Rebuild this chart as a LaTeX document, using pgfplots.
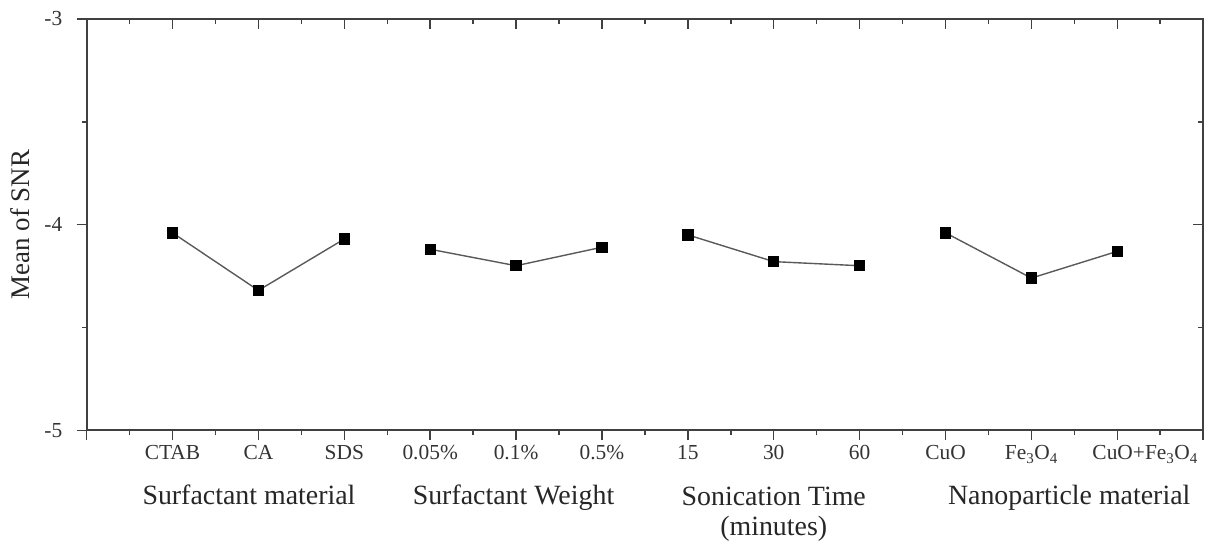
\documentclass[border=0pt]{standalone}
\usepackage{fontspec}
\setmainfont{Liberation Serif}
\usepackage{pgfplots}
\usepackage{pgfplotstable}
\pgfplotsset{compat=1.18}

% main effects plot, mean of SNR per factor level (one table per factor)
\pgfplotstableread{
x   snr
1   -4.04
2   -4.32
3   -4.07
}\surfmat
\pgfplotstableread{
x   snr
4   -4.12
5   -4.20
6   -4.11
}\surfwt
\pgfplotstableread{
x   snr
7   -4.05
8   -4.18
9   -4.20
}\sonic
\pgfplotstableread{
x   snr
10  -4.04
11  -4.26
12  -4.13
}\nanomat

\pgfplotsset{
  snrframe/.style={
    scale only axis, width=1121pt, height=413pt,
    xmin=0, xmax=13, ymin=-5, ymax=-3,
    xtick={0,...,13}, ytick={-5,-4,-3},
    minor x tick num=1, minor y tick num=1,
    major tick length=10pt, minor tick length=5pt,
    every tick/.style={line width=1.5pt, black!75},
    tick label style={font=\fontsize{21.5}{25}\selectfont, black!80},
  },
  snrline/.style={line width=1.4pt, black!65, mark=square*, mark size=5pt,
    mark options={solid, fill=black, draw=black}},
}

\begin{document}
\begin{tikzpicture}
\begin{axis}[snrframe, name=main,
  tick pos=left, tick align=outside,
  axis line style={line width=1.8pt, black!75},
  xticklabels={,CTAB,CA,SDS,0.05\%,0.1\%,0.5\%,15,30,60,CuO,Fe\textsubscript{3}O\textsubscript{4},{\hspace*{56pt}CuO+Fe\textsubscript{3}O\textsubscript{4}},},
  yticklabels={-5,-4,-3},
  yticklabel style={xshift=-11pt},
  xticklabel style={yshift=-2pt},
  ylabel={Mean of SNR},
  ylabel style={font=\fontsize{27}{31}\selectfont, black!85, yshift=8pt},
  clip=false,
]
\addplot[snrline] table[x=x, y=snr] {\surfmat};
\addplot[snrline] table[x=x, y=snr] {\surfwt};
\addplot[snrline] table[x=x, y=snr] {\sonic};
\addplot[snrline] table[x=x, y=snr] {\nanomat};

\begin{scope}[every node/.style={font=\fontsize{28}{31}\selectfont, black!85, anchor=base, align=center}]
\node at (axis cs:1.89,-5) [yshift=-75pt] {Surfactant material};
\node at (axis cs:4.97,-5) [yshift=-75pt] {Surfactant Weight};
\node[anchor=north] at (axis cs:8.0,-5) [yshift=-53pt] {Sonication Time\\(minutes)};
\node at (axis cs:11.44,-5) [yshift=-75pt] {Nanoparticle material};
\end{scope}
\end{axis}
\begin{axis}[snrframe,
  tick pos=right, tick align=inside,
  axis line style={draw=none},
  xticklabels={}, yticklabels={},
]
\end{axis}
% white space above and left of the frame, as in the original
\path (main.north) ++(0,19pt);
\path (main.south west) ++(-87pt,0);
\end{tikzpicture}
\end{document}
